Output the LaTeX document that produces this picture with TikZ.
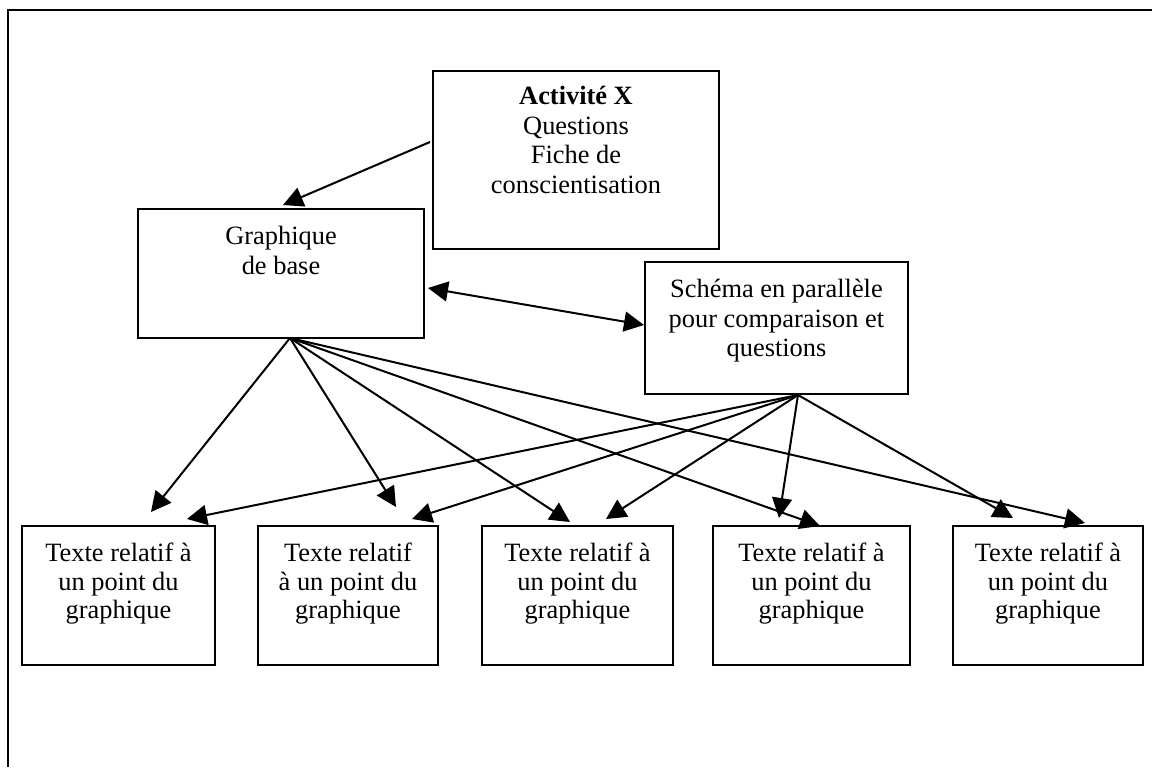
\documentclass[tikz,border=0pt]{standalone}
\usepackage{fontspec}
\setmainfont{Liberation Serif}
\usetikzlibrary{arrows.meta}
\newcommand{\toprule}{\rule{0pt}{10pt}}
\begin{document}
\begin{tikzpicture}[x=0.5pt,y=-0.5pt,
  tbox/.style={draw,line width=1pt,inner sep=0pt},
  lbl/.style={align=center,inner sep=0pt,anchor=north,font=\fontsize{13.2pt}{14.8pt}\selectfont},
  lbllow/.style={lbl,font=\fontsize{13.2pt}{14.3pt}\selectfont},
  arr/.style={line width=1pt,-{Triangle[length=10pt,width=10pt]}},
  darr/.style={line width=1pt,{Triangle[length=10pt,width=10pt]}-{Triangle[length=10pt,width=10pt]}},
  frame/.style={line width=1pt}]
\useasboundingbox (0,0) rectangle (1152,767);
\draw[frame] (1152,10) -- (8,10) -- (8,767);

% boxes
\node[tbox,minimum width=143pt,minimum height=89pt] (act) at (576,160) {};
\node[tbox,minimum width=143pt,minimum height=64.5pt] (gra) at (281,273.5) {};
\node[tbox,minimum width=131.5pt,minimum height=66pt] (sch) at (776.5,328) {};
\node[tbox,minimum width=96.5pt,minimum height=69.5pt] (t1) at (118.5,595.5) {};
\node[tbox,minimum width=90pt,minimum height=69.5pt] (t2) at (348,595.5) {};
\node[tbox,minimum width=95.5pt,minimum height=69.5pt] (t3) at (577.5,595.5) {};
\node[tbox,minimum width=98.5pt,minimum height=69.5pt] (t4) at (811.5,595.5) {};
\node[tbox,minimum width=95pt,minimum height=69.5pt] (t5) at (1048,595.5) {};

% texts
\node[lbl] (actT) at ([yshift=-7pt]act.north) {\toprule\textbf{Activité X}\\Questions\\Fiche de\\conscientisation};
\node[lbl] (graT) at ([yshift=-8pt]gra.north) {\toprule Graphique\\de base};
\node[lbl] (schT) at ([yshift=-8pt]sch.north) {\toprule Schéma en parallèle\\pour comparaison et\\questions};
\node[lbllow] (t1T) at ([yshift=-8pt]t1.north) {\toprule Texte relatif à\\un point du\\graphique};
\node[lbllow] (t2T) at ([yshift=-8pt]t2.north) {\toprule Texte relatif\\à un point du\\graphique};
\node[lbllow] (t3T) at ([yshift=-8pt]t3.north) {\toprule Texte relatif à\\un point du\\graphique};
\node[lbllow] (t4T) at ([yshift=-8pt]t4.north) {\toprule Texte relatif à\\un point du\\graphique};
\node[lbllow] (t5T) at ([yshift=-8pt]t5.north) {\toprule Texte relatif à\\un point du\\graphique};

% connector end points
\coordinate (aS) at (430,142);
\coordinate (aE) at (283,205);
\coordinate (dL) at (428,288);
\coordinate (dR) at (644,325);
\coordinate (gs) at (290,338);
\coordinate (ss) at (798,395);
\coordinate (g1) at (151,512);
\coordinate (g2) at (396,507);
\coordinate (g3) at (570,522);
\coordinate (g4) at (820,526);
\coordinate (g5) at (1085,523);
\coordinate (s1) at (187,519);
\coordinate (s2) at (412,519);
\coordinate (s3) at (606,519);
\coordinate (s4) at (779,518);
\coordinate (s5) at (1013,518);

\draw[arr] (aS) -- (aE);
\draw[darr] (dL) -- (dR);
\foreach \t in {g1,g2,g3,g4,g5} \draw[arr] (gs) -- (\t);
\foreach \t in {s1,s2,s3,s4,s5} \draw[arr] (ss) -- (\t);
\end{tikzpicture}
\end{document}
